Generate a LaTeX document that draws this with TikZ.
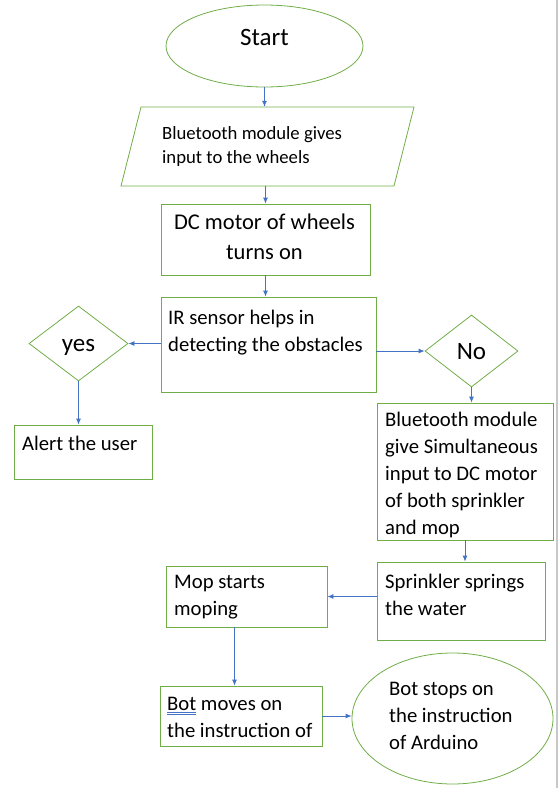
\documentclass[tikz,border=0pt]{standalone}
\usepackage{fontspec}
\setmainfont{Carlito}
\usetikzlibrary{shapes.geometric}
\usetikzlibrary{arrows.meta}
\definecolor{boxgreen}{RGB}{112,173,71}
\definecolor{lineblue}{RGB}{68,114,196}
\definecolor{edgegray}{RGB}{200,200,200}
\newcommand{\spellmark}[1]{\setbox0\hbox{#1}\rlap{\textcolor{lineblue}{\rule[-2.5pt]{\wd0}{0.6pt}}}\rlap{\textcolor{lineblue}{\rule[-4.5pt]{\wd0}{0.6pt}}}#1}
\tikzset{
>={Latex[length=6pt,width=5pt]}, % small filled tips like the original
x=1pt, y=-1pt, % coordinates are read as pixels, y downwards
box/.style={draw=boxgreen, thick, inner sep=0pt}, % every green outline
terminal/.style={box, ellipse},
decision/.style={box, diamond},
txt/.style={inner sep=0pt, align=left, anchor=west, font=\fontsize{20.7}{27}\selectfont},
flow/.style={->, draw=lineblue, line width=0.8pt},
}

\begin{document}
\begin{tikzpicture}
\useasboundingbox (0,0) rectangle (559,788);
% page edge
\draw[edgegray, line width=1.2pt] (557,0) -- (557,788);

% main column
\node[terminal, minimum width=197, minimum height=82] (start) at (264.5,46) {};
\node[inner sep=0pt, font=\fontsize{25}{30}\selectfont] (starttxt) at (264.5,37) {Start};
% input slab, drawn by hand
\node[inner sep=0pt, minimum width=253, minimum height=79] (para) at (267.5,146.5) {};
\draw[box] (121,186) -- (141,107) -- (414,107) -- (394,186) -- cycle;
\node[txt, font=\fontsize{18.7}{24.5}\selectfont] (paratxt) at (162,146.5) {Bluetooth module gives\\input to the wheels};
\node[box, minimum width=209, minimum height=71] (dc) at (265.5,239.5) {};
\node[txt, anchor=center, align=center, font=\fontsize{22.5}{30}\selectfont] (dctxt) at (264.5,237) {DC motor of wheels\\turns on};
\node[box, minimum width=215, minimum height=95] (ir) at (268.5,344.5) {};
\node[txt] (irtxt) at (168,332.5) {IR sensor helps in\\detecting the obstacles};

% left branch
\node[decision, minimum width=99, minimum height=75] (yes) at (78.5,343.5) {};
\node[inner sep=0pt, font=\fontsize{25}{30}\selectfont] (yestxt) at (78.5,347) {yes};
\node[box, minimum width=138, minimum height=54] (alert) at (83,452) {};
\node[txt] (alerttxt) at (22,443) {Alert the user};

% right branch
\node[decision, minimum width=93, minimum height=72] (no) at (471.5,351) {};
\node[inner sep=0pt, font=\fontsize{25}{30}\selectfont] (notxt) at (471.5,352) {No};
\node[box, minimum width=176, minimum height=137] (bt2) at (465,471.5) {};
\node[txt] (bt2txt) at (385,474.5) {Bluetooth module\\give Simultaneous\\input to DC motor\\of both sprinkler\\and mop};
\node[box, minimum width=168, minimum height=78] (sprink) at (461,601) {};
\node[txt] (sprinktxt) at (385,594.5) {Sprinkler springs\\the water};

% bottom
\node[box, minimum width=161, minimum height=61] (mop) at (246.5,596.5) {};
\node[txt] (moptxt) at (174,597) {Mop starts\\moping};
\node[box, minimum width=162, minimum height=60] (bot) at (241,716) {};
\node[txt] (bottxt) at (167,717) {\spellmark{Bot} moves on\\the instruction of};
\node[terminal, minimum width=201, minimum height=131] (stop) at (452.5,718.5) {};
\node[txt] (stoptxt) at (389,715.5) {Bot stops on\\the instruction\\of Arduino};

% connectors
\draw[flow] (start) -- (start |- para.north);
\draw[flow] (dc |- para.south) -- (dc);
\draw[flow] (dc.south) -- (dc.south |- ir.north);
\draw[flow] (ir.west |- yes.east) -- (yes.east);
\draw[flow] (ir.east |- no.west) -- (no.west);
\draw[flow] (yes.south) -- (yes.south |- alert.north);
\draw[flow] (no.south) -- (no.south |- bt2.north);
\draw[flow] (bt2.south) -- (bt2.south |- sprink.north);
\draw[flow] (sprink.west |- mop.east) -- (mop.east);
\draw[flow] ([xshift=-12pt]mop.south) -- ([xshift=-12pt]mop.south |- bot.north);
\draw[flow] (bot.east) -- (bot.east -| stop.west);
\end{tikzpicture}
\end{document}
